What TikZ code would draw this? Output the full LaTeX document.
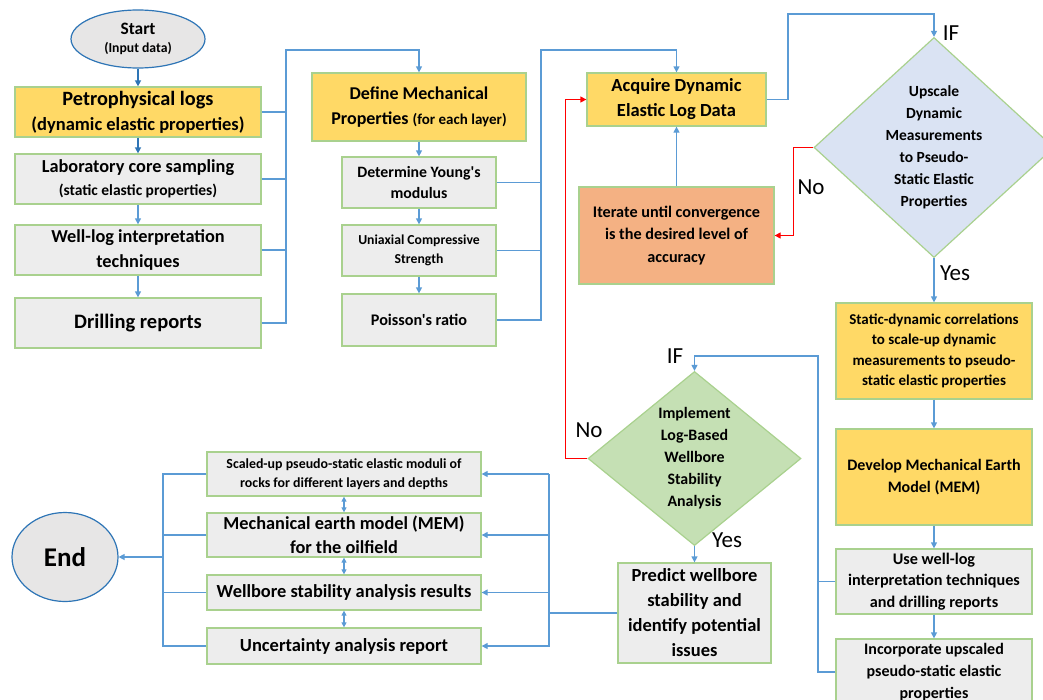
\documentclass[tikz,border=0pt]{standalone}
\usepackage{fontspec}
\setmainfont{Carlito}[Ligatures=TeXOff]
\usetikzlibrary{arrows.meta,shapes.geometric,calc}
\definecolor{ylw}{HTML}{FFD966}
\definecolor{gry}{HTML}{EDEDED}
\definecolor{bgrn}{HTML}{A9D18E}
\definecolor{lblue}{HTML}{5B9BD5}
\definecolor{dblue}{HTML}{2E75B6}
\definecolor{orng}{HTML}{F4B183}
\definecolor{dblu}{HTML}{DAE3F3}
\definecolor{dgrn}{HTML}{C5E0B4}
\definecolor{ellf}{HTML}{E7E6E6}
\newcommand{\fs}[2]{\fontsize{#1}{#2}\selectfont}
\tikzset{
  basebox/.style={draw=bgrn, line width=1.3pt, inner sep=0pt, align=center, rectangle},
  ybox/.style={basebox, fill=ylw},
  gbox/.style={basebox, fill=gry},
  obox/.style={basebox, fill=orng},
  ell/.style={ellipse, draw=dblue, line width=1.2pt, fill=ellf, inner sep=0pt, align=center},
  dia/.style={diamond, draw=bgrn, line width=1.2pt, inner sep=0pt, align=center},
  conn/.style={draw=lblue, line width=1.3pt},
  arr/.style={conn, -{Triangle[length=6pt,width=6pt]}},
  darr/.style={conn, {Triangle[length=5pt,width=5pt]}-{Triangle[length=5pt,width=5pt]}},
  dkarr/.style={draw=dblue, line width=1.5pt, -{Triangle[length=6pt,width=6pt]}},
  redarr/.style={draw=red, line width=1.3pt, -{Triangle[length=6pt,width=6pt]}},
  lbl/.style={font=\fs{23}{25}, inner sep=0pt},
}
\begin{document}
\begin{tikzpicture}[x=1pt,y=-1pt]
\useasboundingbox (0,0) rectangle (1043,699);
\clip (0,0) rectangle (1043,699);

% left column
\node[ell, minimum width=134pt, minimum height=58pt, font=\bfseries\fs{17.4}{18}] (start) at (138,39)
  {Start\\{\fs{13.7}{19}(Input data)}};
\node[ybox, minimum width=246pt, minimum height=50pt, font=\bfseries\fs{20.3}{25}] (petro) at (138,112)
  {Petrophysical logs\\{\fs{18.5}{25}(dynamic elastic properties)}};
\node[gbox, minimum width=246pt, minimum height=50pt, font=\bfseries\fs{18.3}{23}] (lab) at (138,179)
  {Laboratory core sampling\\{\fs{15.5}{22}(static elastic properties)}};
\node[gbox, minimum width=246pt, minimum height=50pt, font=\bfseries\fs{18.3}{25}] (well) at (138,250)
  {Well-log interpretation\\techniques};
\node[gbox, minimum width=246pt, minimum height=50pt, font=\bfseries\fs{20.5}{25}] (drill) at (138,323)
  {Drilling reports};

% second column
\node[ybox, minimum width=214pt, minimum height=68pt, font=\bfseries\fs{18}{25}] (define) at (419,107)
  {Define Mechanical\\Properties {\fs{15}{25}(for each layer)}};
\node[gbox, minimum width=154pt, minimum height=51pt, font=\bfseries\fs{15.8}{21}] (young) at (419,182.5)
  {Determine Young's\\modulus};
\node[gbox, minimum width=154pt, minimum height=51pt, font=\bfseries\fs{13.7}{19}] (ucs) at (419,250.5)
  {Uniaxial Compressive\\Strength};
\node[gbox, minimum width=154pt, minimum height=52pt, font=\bfseries\fs{16.2}{21}] (poisson) at (419,320)
  {Poisson's ratio};

% third column
\node[ybox, minimum width=179pt, minimum height=53pt, font=\bfseries\fs{18.5}{25}] (acquire) at (676.5,99.5)
  {Acquire Dynamic\\Elastic Log Data};
\node[obox, minimum width=195pt, minimum height=97pt, font=\bfseries\fs{16.2}{22.5}] (iterate) at (676.5,235.5)
  {Iterate until convergence\\is the desired level of\\accuracy};

% right column
\node[dia, fill=dblu, minimum width=240pt, minimum height=219pt, font=\bfseries\fs{15.5}{22}] (upscale) at (934,147.5)
  {Upscale\\Dynamic\\Measurements\\to Pseudo-\\Static Elastic\\Properties};
\node[ybox, minimum width=196pt, minimum height=96pt, font=\bfseries\fs{15}{20.5}] (static) at (934,351)
  {Static-dynamic correlations\\to scale-up dynamic\\measurements to pseudo-\\static elastic properties};
\node[ybox, minimum width=196pt, minimum height=96pt, font=\bfseries\fs{16}{22}] (develop) at (934,477)
  {Develop Mechanical Earth\\Model (MEM)};
\node[gbox, minimum width=196pt, minimum height=65pt, font=\bfseries\fs{16.2}{21.5}] (usewell) at (934,581.5)
  {Use well-log\\interpretation techniques\\and drilling reports};
\node[gbox, minimum width=196pt, minimum height=66pt, font=\bfseries\fs{16}{22}] (incorp) at (934,672)
  {Incorporate upscaled\\pseudo-static elastic\\properties};

% implement / predict
\node[dia, fill=dgrn, minimum width=213pt, minimum height=159pt, font=\bfseries\fs{15.9}{22}] (implement) at (694.5,458.5)
  {Implement\\Log-Based\\Wellbore\\Stability\\Analysis};
\node[gbox, minimum width=153pt, minimum height=100pt, font=\bfseries\fs{18.5}{25}] (predict) at (694.5,613)
  {Predict wellbore\\stability and\\identify potential\\issues};

% results
\node[gbox, minimum width=274pt, minimum height=44pt, font=\bfseries\fs{13.9}{18.5}] (scaled) at (344,474)
  {Scaled-up pseudo-static elastic moduli of\\rocks for different layers and depths};
\node[gbox, minimum width=274pt, minimum height=44pt, font=\bfseries\fs{18.3}{24}] (mem) at (344,535)
  {Mechanical earth model (MEM)\\for the oilfield};
\node[gbox, minimum width=274pt, minimum height=35pt, font=\bfseries\fs{18.4}{22}] (wbs) at (344,592.5)
  {Wellbore stability analysis results};
\node[gbox, minimum width=274pt, minimum height=36pt, font=\bfseries\fs{18.5}{22}] (unc) at (344,646)
  {Uncertainty analysis report};
\node[ell, minimum width=106pt, minimum height=89pt, font=\bfseries\fs{27}{30}] (end) at (65,557)
  {End};

% labels
\node[lbl] (if1) at (951,33) {IF};
\node[lbl] (no1) at (811,187) {No};
\node[lbl] (yes1) at (955,273) {Yes};
\node[lbl] (if2) at (675,356) {IF};
\node[lbl] (no2) at (589,430) {No};
\node[lbl] (yes2) at (727,540) {Yes};

% coordinates for bends
\coordinate (b1) at (286,50);
\coordinate (b2) at (541,50);
\coordinate (b3) at (788,14);
\coordinate (b4) at (818,356);
\coordinate (b5) at (549,474);
\coordinate (b6) at (163,474);

% left column arrows
\draw[dkarr] (start.south) -- (petro.north);
\draw[dkarr] (petro.south) -- (lab.north);
\draw[arr] (lab.south) -- (well.north);
\draw[arr] (well.south) -- (drill.north);
\draw[arr] (drill.east) -| (b1) -| (define.north);
\draw[conn] (petro.east) -- (petro.east -| b1);
\draw[conn] (lab.east) -- (lab.east -| b1);
\draw[conn] (well.east) -- (well.east -| b1);

% second column arrows
\draw[arr] (define.south) -- (young.north);
\draw[arr] (young.south) -- (ucs.north);
\draw[arr] (ucs.south) -- (poisson.north);
\draw[arr] (poisson.east) -| (b2) -| (acquire.north);
\draw[conn] (young.east) -- (young.east -| b2);
\draw[conn] (ucs.east) -- (ucs.east -| b2);

% third column
\draw[arr] (iterate.north) -- (acquire.south);
\draw[arr] (acquire.east) -| (b3) -| (upscale.north);
\draw[redarr] (upscale.west) -- ++(-20,0) |- (iterate.east);

% right column
\draw[arr] (upscale.south) -- (static.north);
\draw[arr] (static.south) -- (develop.north);
\draw[arr] (develop.south) -- (usewell.north);
\draw[arr] (usewell.south) -- (incorp.north);
\draw[arr] (incorp.west) -| (b4) -| (implement.north);
\draw[conn] (usewell.west) -- (usewell.west -| b4);

% implement
\draw[redarr] (implement.west) -- ++(-22,0) |- (acquire.west);
\draw[arr] (implement.south) -- (predict.north);

% predict to results
\draw[conn] (predict.west) -| (b5);
\draw[arr] (b5) |- (unc.east);
\draw[arr] (scaled.east -| b5) -- (scaled.east);
\draw[arr] (mem.east -| b5) -- (mem.east);
\draw[arr] (wbs.east -| b5) -- (wbs.east);

% double arrows
\draw[darr] (scaled.south) -- (mem.north);
\draw[darr] (mem.south) -- (wbs.north);
\draw[darr] (wbs.south) -- (unc.north);

% results to end
\draw[conn] (scaled.west) -- (b6) |- (unc.west);
\draw[conn] (mem.west) -- (mem.west -| b6);
\draw[conn] (wbs.west) -- (wbs.west -| b6);
\draw[arr] (end.east -| b6) -- (end.east);
\end{tikzpicture}
\end{document}
